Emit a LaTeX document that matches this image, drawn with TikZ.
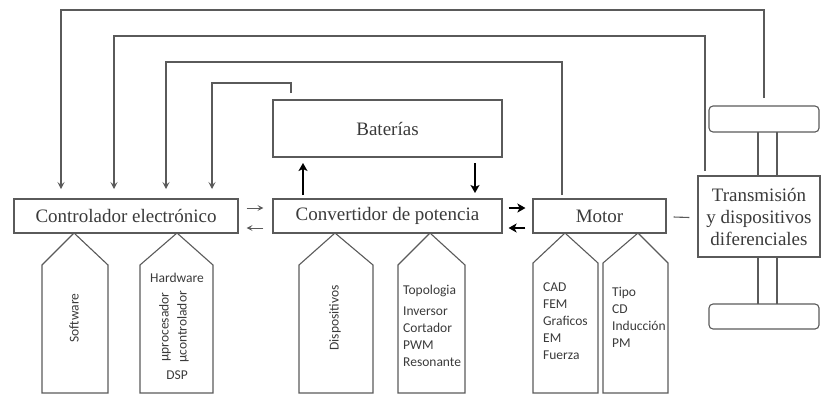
\documentclass[tikz,border=0pt]{standalone}
\usepackage{fontspec}
\setmainfont{Liberation Serif}
\newfontfamily\labelsans{Carlito}
\usetikzlibrary{arrows.meta}
\definecolor{linegray}{HTML}{5A5A5A}
\definecolor{textgray}{HTML}{3A3A3A}
\begin{document}
\begin{tikzpicture}[x=1pt,y=-1pt,
  block/.style={draw=linegray,line width=1.1pt,inner sep=0pt,
    font=\fontsize{19}{22}\selectfont,text=textgray,align=center},
  wheel/.style={draw=linegray,line width=1.1pt,rounded corners=4pt,inner sep=0pt},
  feedback/.style={draw=linegray,line width=1.1pt,
    -{Stealth[length=7pt,width=7pt,inset=3pt]}},
  thinarrow/.style={draw=linegray,line width=0.9pt,
    -{Stealth[length=6pt,width=6pt,inset=2.5pt]}},
  bigarrow/.style={draw=black,line width=2pt,
    -{Stealth[length=8pt,width=9pt,inset=2pt]}},
  link/.style={draw=linegray,line width=1.1pt},
  tag/.style={draw=linegray,line width=1.1pt},
  taglabel/.style={font=\labelsans\fontsize{13.5}{17}\selectfont,text=textgray,inner sep=0pt},
]
\useasboundingbox (0,0) rectangle (821,394);

% main blocks
\node[block,minimum width=224pt,minimum height=34pt] (ctrl) at (126,216) {Controlador electrónico};
\node[block,minimum width=229pt,minimum height=34pt] (conv) at (387.5,216) {Convertidor de potencia};
\node[block,minimum width=229pt,minimum height=57pt] (bat) at (387.5,128.5) {Baterías};
\node[block,minimum width=133pt,minimum height=34pt] (motor) at (599.5,216) {Motor};
\node[block,minimum width=122pt,minimum height=81pt] (trans) at (759,216.5)
  {Transmisión\\y dispositivos\\diferenciales};

% wheels and axles
\node[wheel,minimum width=110pt,minimum height=26pt] (wtop) at (764,119) {};
\node[wheel,minimum width=110pt,minimum height=25pt] (wbot) at (764,316.5) {};
\draw[link] (758,132) -- (758,176) (777,132) -- (777,176);
\draw[link] (758,257) -- (758,304) (777,257) -- (777,304);

% feedback lines to the controller
\coordinate (c1) at (61,189);
\coordinate (c2) at (114,189);
\coordinate (c3) at (166,189);
\coordinate (c4) at (212,189);
\coordinate (s1) at (764,98);
\coordinate (s2) at (705,171);
\coordinate (s3) at (562,195);
\coordinate (s4) at (291,93);
\draw[feedback] (s1) |- (61,10) -- (c1);
\draw[feedback] (s2) |- (114,36) -- (c2);
\draw[feedback] (s3) |- (166,62) -- (c3);
\draw[feedback] (s4) |- (212,83) -- (c4);

% arrows between blocks (upper one goes right, lower one goes left)
\draw[thinarrow] ([xshift=8pt,yshift=8pt]ctrl.east) -- ([xshift=-9pt,yshift=8pt]conv.west);
\draw[thinarrow] ([xshift=-9pt,yshift=-12pt]conv.west) -- ([xshift=8pt,yshift=-12pt]ctrl.east);
\draw[bigarrow] ([xshift=6pt,yshift=8pt]conv.east) -- ([xshift=-7pt,yshift=8pt]motor.west);
\draw[bigarrow] ([xshift=-7pt,yshift=-12pt]motor.west) -- ([xshift=6pt,yshift=-12pt]conv.east);
\draw[bigarrow] (303,195) -- (303,163);
\draw[bigarrow] (475,163) -- (475,193);
\draw[link] ([xshift=7pt,yshift=-1pt]motor.east) -- ([xshift=-8pt,yshift=-1pt]trans.west);

% attribute tags under the blocks
\foreach \l/\a/\r/\s in {42/74/108/265, 140/177/213/265, 299/335/373/265,
                        398/430/465/265, 533/565/598/263, 603/638/668/263}
  \draw[tag] (\l,393) -- (\l,\s) -- (\a,233) -- (\r,\s) -- (\r,393) -- cycle;

\node[taglabel,rotate=90] (sw) at (74,318) {Software};
\node[taglabel] (hw) at (177,278) {Hardware};
\node[taglabel,rotate=90] (up) at (165,327) {µprocesador};
\node[taglabel,rotate=90] (uc) at (183,327) {µcontrolador};
\node[taglabel] (dsp) at (177,375) {DSP};
\node[taglabel,rotate=90] (dev) at (335,318) {Dispositivos};
\node[taglabel,align=left,anchor=west] (topo) at (403,326)
  {Topologia\\[4pt]Inversor\\Cortador\\PWM\\Resonante};
\node[taglabel,align=left,anchor=west] (cad) at (543,321.5)
  {CAD\\FEM\\Graficos\\EM\\Fuerza};
\node[taglabel,align=left,anchor=west] (tipo) at (612,317)
  {Tipo\\CD\\Inducción\\PM};
\end{tikzpicture}
\end{document}
